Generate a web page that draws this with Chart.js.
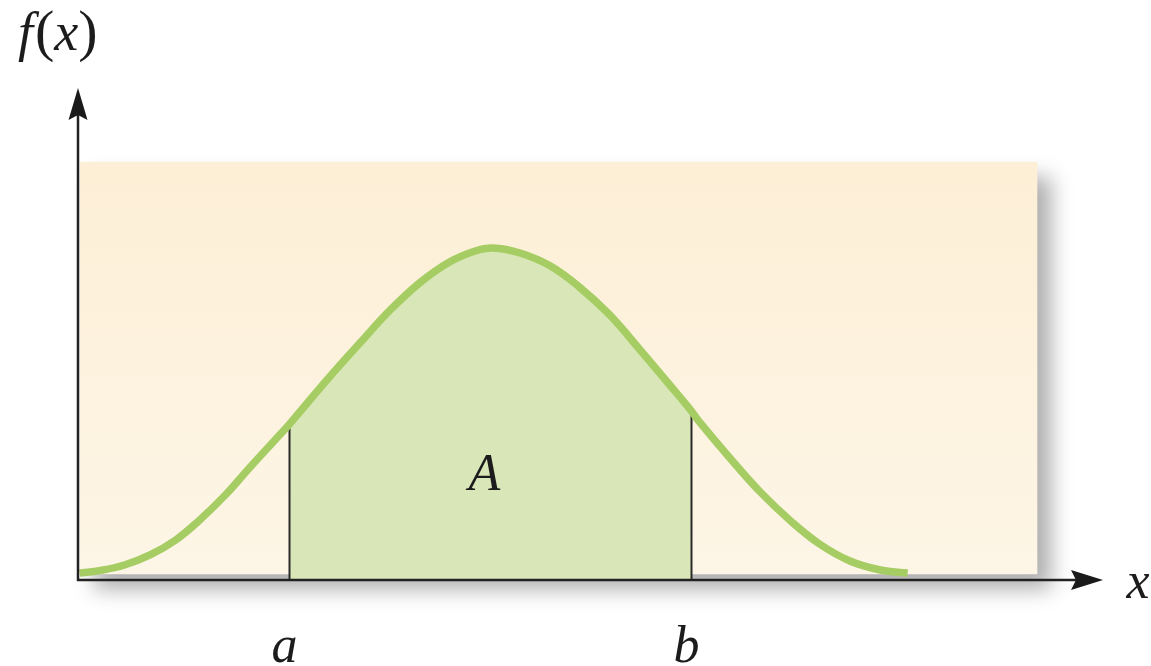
<!DOCTYPE html>
<html>
<head>
<meta charset="utf-8">
<script src="https://cdn.jsdelivr.net/npm/chart.js@4/dist/chart.umd.min.js"></script>
<style>
  html, body { margin: 0; padding: 0; background: #ffffff; overflow: hidden; }
  #wrap { width: 1151px; height: 666px; }
</style>
</head>
<body>
<div id="wrap"><canvas id="c" width="1151" height="666"></canvas></div>
<script>
// Density curve f(x), sampled along x
const curveX = [-2.59, -2.46, -2.31, -2.15, -1.99, -1.84, -1.68, -1.53, -1.37, -1.21, -1.03, -0.84, -0.65, -0.46, -0.28, -0.12, -0.01,
                0.16, 0.35, 0.53, 0.72, 0.91, 1.10, 1.28, 1.47, 1.66, 1.85, 2.03, 2.22, 2.41, 2.58];
const curveY = [0.0085, 0.0116, 0.0183, 0.0305, 0.0488, 0.0732, 0.1037, 0.1366, 0.1707, 0.2061, 0.2476, 0.2890, 0.3293, 0.3634, 0.3878, 0.4012, 0.4049,
                0.3988, 0.3829, 0.3573, 0.3232, 0.2805, 0.2366, 0.1927, 0.1488, 0.1073, 0.0720, 0.0439, 0.0232, 0.0122, 0.0085];

// Integration bounds and the density at each bound
const boundX = [-1.28, 1.23];
const boundY = [0.190, 0.206];
const boundLabels = ['a', 'b'];

// Axis and region captions
const yAxisLabel = ['f', '(', 'x', ')'];
const xAxisLabel = 'x';
const areaLabel = 'A';

// Full curve: samples plus the two bound points, ordered by x
const curvePts = curveX.map((x, i) => ({ x, y: curveY[i] }))
  .concat(boundX.map((x, i) => ({ x, y: boundY[i] })))
  .sort((p, q) => p.x - q.x);

// Shaded region between a and b
const areaPts = curvePts.filter(p => p.x >= boundX[0] && p.x <= boundX[1]);

const TEXT_FONT = '"Liberation Serif", "DejaVu Serif", serif';
const INK = '#1c1c1c';

const figurePlugin = {
  id: 'figure',
  beforeDatasetsDraw(chart, args, opts) {
    const { ctx, scales: { x, y } } = chart;
    const p = opts.panel;
    const l = x.getPixelForValue(p.xMin), r = x.getPixelForValue(p.xMax);
    const t = y.getPixelForValue(p.yMax), b = y.getPixelForValue(p.yMin);
    ctx.save();
    const g = ctx.createLinearGradient(0, t, 0, b);
    g.addColorStop(0, '#fdefd6');
    g.addColorStop(1, '#fdf5e6');
    ctx.shadowColor = 'rgba(0,0,0,0.32)';
    ctx.shadowBlur = 20;
    ctx.shadowOffsetX = 14;
    ctx.shadowOffsetY = 15;
    ctx.fillStyle = g;
    ctx.fillRect(l, t, r - l, b - t);
    ctx.restore();
  },
  afterDatasetDraw(chart, args) {
    // bound lines sit over the shaded fill, under the curve stroke
    if (args.index !== 1) return;
    const { ctx, scales: { x, y } } = chart;
    ctx.save();
    ctx.strokeStyle = '#2a2a2a';
    ctx.lineWidth = 2;
    boundX.forEach((bx, i) => {
      const px = Math.round(x.getPixelForValue(bx)) + 0.5;
      ctx.beginPath();
      ctx.moveTo(px, y.getPixelForValue(0));
      ctx.lineTo(px, y.getPixelForValue(boundY[i]));
      ctx.stroke();
    });
    ctx.restore();
  },
  afterDraw(chart) {
    const { ctx, chartArea: ca, scales: { x } } = chart;
    const left = ca.left, bottom = ca.bottom, top = ca.top, right = ca.right;
    ctx.save();
    // axes
    ctx.strokeStyle = '#222';
    ctx.fillStyle = '#1a1a1a';
    ctx.lineWidth = 2.5;
    ctx.beginPath();
    ctx.moveTo(left, bottom);
    ctx.lineTo(left, top + 26);
    ctx.moveTo(left - 1.25, bottom);
    ctx.lineTo(right - 26, bottom);
    ctx.stroke();
    // arrow heads
    ctx.beginPath();
    ctx.moveTo(left, top);
    ctx.lineTo(left - 9.5, top + 32);
    ctx.lineTo(left, top + 27);
    ctx.lineTo(left + 9.5, top + 32);
    ctx.closePath();
    ctx.fill();
    ctx.beginPath();
    ctx.moveTo(right, bottom);
    ctx.lineTo(right - 32, bottom - 10);
    ctx.lineTo(right - 27, bottom);
    ctx.lineTo(right - 32, bottom + 10);
    ctx.closePath();
    ctx.fill();

    // captions
    ctx.fillStyle = INK;
    ctx.textBaseline = 'alphabetic';
    // f(x) above the vertical axis: italic letters, upright parentheses
    let cx = 18;
    yAxisLabel.forEach((s, i) => {
      ctx.font = i % 2 === 0 ? 'italic 54px ' + TEXT_FONT : '58px ' + TEXT_FONT;
      ctx.textAlign = 'left';
      ctx.fillText(s, cx, top - 38);
      cx += ctx.measureText(s).width + (i === 0 ? 2 : 0);
    });
    ctx.font = 'italic 52px ' + TEXT_FONT;
    ctx.textAlign = 'center';
    ctx.fillText(xAxisLabel, right + 35, bottom + 18);
    boundX.forEach((bx, i) => {
      ctx.fillText(boundLabels[i], x.getPixelForValue(bx) - 5, bottom + 82);
    });
    ctx.fillText(areaLabel, x.getPixelForValue((boundX[0] + boundX[1]) / 2) - 6, bottom - 90);
    ctx.restore();
  }
};

new Chart(document.getElementById('c'), {
  type: 'line',
  data: {
    datasets: [
      {
        data: curvePts,
        borderColor: '#a6cd63',
        borderWidth: 7.5,
        pointRadius: 0,
        fill: false,
        tension: 0.4
      },
      {
        data: areaPts,
        borderWidth: 0,
        borderColor: 'rgba(0,0,0,0)',
        backgroundColor: '#d9e7b8',
        pointRadius: 0,
        fill: 'origin',
        tension: 0.4
      }
    ]
  },
  options: {
    responsive: false,
    animation: false,
    events: [],
    layout: { padding: { left: 78, right: 48, top: 88, bottom: 86 } },
    scales: {
      x: { type: 'linear', min: -2.6, max: 3.8, display: false },
      y: { type: 'linear', min: 0, max: 0.6, display: false }
    },
    plugins: {
      legend: { display: false },
      tooltip: { enabled: false },
      figure: { panel: { xMin: -2.588, xMax: 3.39, yMin: 0.007, yMax: 0.51 } }
    }
  },
  plugins: [figurePlugin]
});
</script>
</body>
</html>
